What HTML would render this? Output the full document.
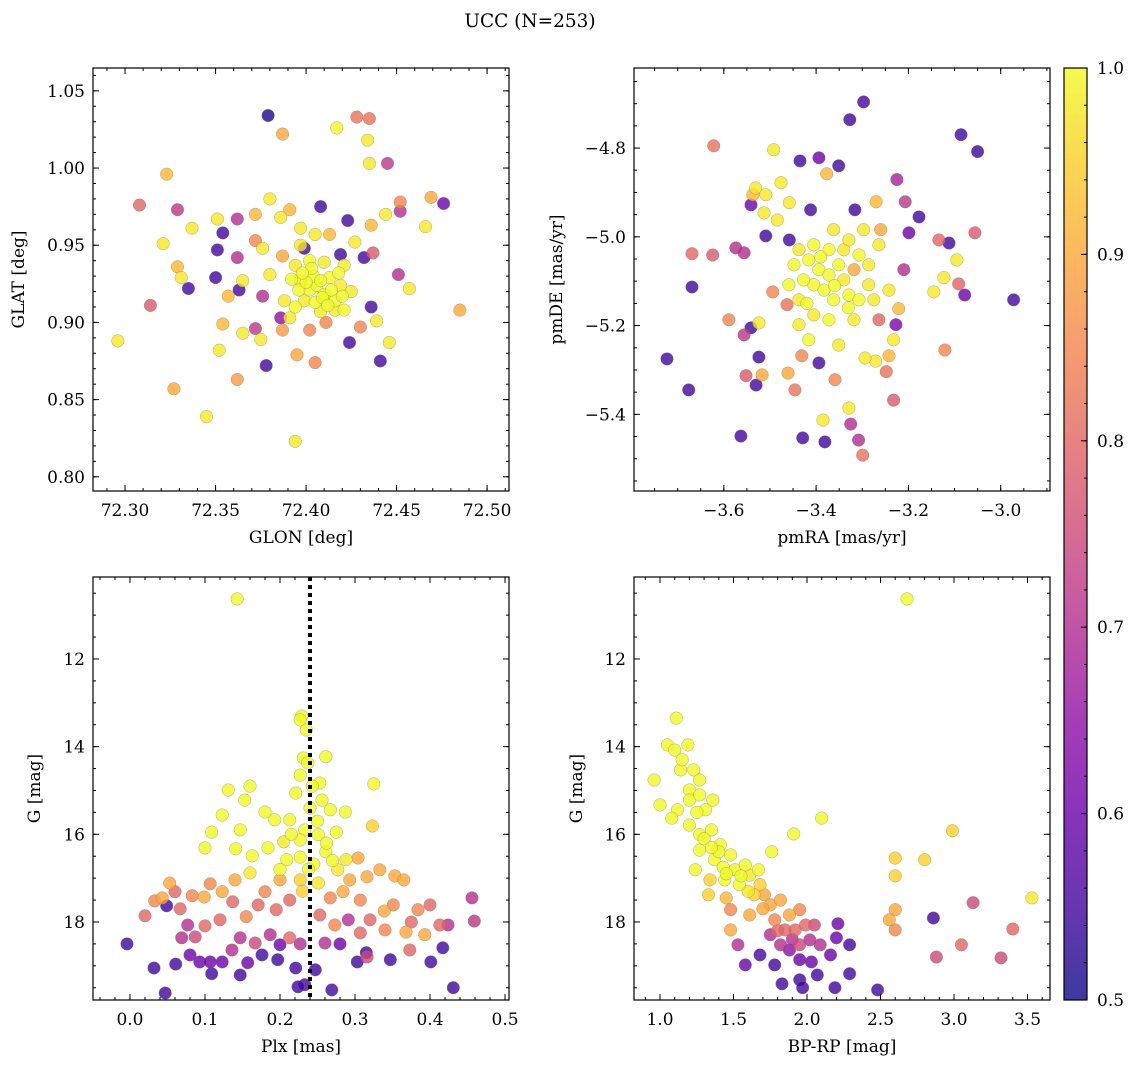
<!DOCTYPE html>
<html><head><meta charset="utf-8"><title>UCC (N=253)</title>
<style>
body{margin:0;background:#fff;}
svg{display:block;font-family:"DejaVu Serif","Liberation Serif",serif;}
</style></head>
<body>
<svg id="fig" width="1136" height="1067" viewBox="0 0 1136 1067">
<defs>
<linearGradient id="cbgrad" x1="0" y1="1" x2="0" y2="0">
<stop offset="0" stop-color="#0d0887" stop-opacity="0.8"/>
<stop offset="0.1" stop-color="#41049d" stop-opacity="0.8"/>
<stop offset="0.2" stop-color="#6a00a8" stop-opacity="0.8"/>
<stop offset="0.3" stop-color="#8f0da4" stop-opacity="0.8"/>
<stop offset="0.4" stop-color="#b12a90" stop-opacity="0.8"/>
<stop offset="0.5" stop-color="#cc4778" stop-opacity="0.8"/>
<stop offset="0.6" stop-color="#e16462" stop-opacity="0.8"/>
<stop offset="0.7" stop-color="#f2844b" stop-opacity="0.8"/>
<stop offset="0.8" stop-color="#fca636" stop-opacity="0.8"/>
<stop offset="0.9" stop-color="#fcce25" stop-opacity="0.8"/>
<stop offset="1" stop-color="#f0f921" stop-opacity="0.8"/>
</linearGradient>
</defs>
<text x="530" y="27" font-size="18.5" text-anchor="middle">UCC (N=253)</text>
</svg>
<script>
// ---- data ----
const p1Data = [
[72.379,1.034,.52],[72.417,1.026,1],[72.387,1.022,.9],[72.428,1.033,.82],[72.435,1.032,.82],[72.434,1.018,.98],[72.435,1.003,.98],[72.445,1.003,.72],
[72.323,0.996,.92],[72.308,0.976,.8],[72.329,0.973,.72],[72.337,0.961,.98],[72.321,0.951,.98],[72.329,0.936,.92],[72.331,0.929,.98],[72.335,0.922,.55],
[72.314,0.911,.78],[72.296,0.888,.98],[72.327,0.857,.9],[72.345,0.839,.98],[72.362,0.863,.88],[72.394,0.823,.98],[72.441,0.875,.55],[72.446,0.887,.98],
[72.466,0.962,.98],[72.469,0.981,.9],[72.476,0.977,.6],[72.485,0.908,.9],[72.457,0.922,.98],[72.451,0.931,.7],[72.452,0.972,.7],[72.452,0.978,.85],
[72.444,0.970,.98],[72.436,0.963,.92],[72.437,0.945,.78],[72.436,0.910,.55],[72.439,0.901,.98],[72.430,0.897,.85],[72.424,0.887,.55],[72.408,0.975,.55],
[72.423,0.966,.55],[72.419,0.944,.55],[72.397,0.961,.98],[72.391,0.973,.92],[72.386,0.968,.98],[72.380,0.980,.98],[72.372,0.970,.92],[72.362,0.967,.7],
[72.351,0.967,.98],[72.354,0.958,.55],[72.351,0.947,.55],[72.362,0.942,.7],[72.350,0.929,.55],[72.363,0.921,.55],[72.357,0.917,.92],[72.376,0.917,.7],
[72.354,0.899,.92],[72.352,0.882,.98],[72.365,0.893,.98],[72.372,0.896,.72],[72.375,0.889,.98],[72.378,0.872,.55],[72.386,0.903,.65],[72.387,0.895,.88],
[72.395,0.879,.9],[72.405,0.874,.85],[72.402,0.895,.85],[72.411,0.900,.85],[72.432,0.942,.55],[72.399,0.948,.55],[72.387,0.943,.9],[72.372,0.953,.85],
[72.397,0.927,.98],[72.402,0.921,1],[72.406,0.924,1],[72.410,0.918,1],[72.399,0.914,.98],[72.405,0.913,1],[72.413,0.929,1],[72.419,0.924,.98],
[72.394,0.937,.98],[72.402,0.940,1],[72.410,0.939,.98],[72.421,0.937,.98],[72.427,0.952,.98],[72.397,0.950,.98],[72.405,0.957,.98],[72.408,0.907,.98],
[72.391,0.903,.98],[72.416,0.908,.98],[72.425,0.920,.98],[72.413,0.957,.92],[72.376,0.948,.98],[72.365,0.927,.98],[72.380,0.931,.98],[72.416,0.914,1],
[72.421,0.908,1],[72.396,0.921,1],[72.388,0.914,.98],[72.404,0.930,1],[72.414,0.921,1],[72.400,0.926,1],[72.409,0.916,1],
[72.403,0.935,1],[72.418,0.932,1],[72.392,0.928,1],[72.408,0.927,1],[72.412,0.911,1],[72.398,0.932,1],[72.420,0.917,1],[72.394,0.910,1]
];
const p2Data = [
[-3.297,-4.696,.55],[-3.327,-4.736,.55],[-3.086,-4.770,.55],[-3.050,-4.808,.55],[-3.622,-4.795,.82],[-3.435,-4.829,.55],[-3.394,-4.822,.6],[-3.492,-4.804,.98],
[-3.351,-4.840,.55],[-3.225,-4.871,.68],[-3.476,-4.878,.98],[-3.531,-4.890,.98],[-3.537,-4.905,.92],[-3.377,-4.858,.92],[-3.412,-4.939,.55],[-3.316,-4.939,.55],
[-3.270,-4.921,.92],[-3.207,-4.921,.72],[-3.177,-4.955,.55],[-3.199,-4.991,.6],[-3.134,-5.007,.8],[-3.112,-5.014,.55],[-3.095,-5.052,.98],[-3.056,-4.991,.78],
[-2.972,-5.142,.55],[-3.078,-5.131,.6],[-3.091,-5.106,.8],[-3.123,-5.092,.98],[-3.145,-5.124,.98],[-3.210,-5.074,.7],[-3.227,-5.198,.62],[-3.221,-5.162,.92],
[-3.232,-5.232,.98],[-3.242,-5.268,.92],[-3.248,-5.304,.82],[-3.271,-5.280,.98],[-3.294,-5.273,.98],[-3.121,-5.255,.85],[-3.232,-5.368,.78],[-3.299,-5.492,.82],
[-3.308,-5.458,.7],[-3.325,-5.422,.7],[-3.329,-5.386,.98],[-3.385,-5.413,.98],[-3.381,-5.462,.55],[-3.429,-5.453,.55],[-3.563,-5.449,.55],[-3.723,-5.275,.55],
[-3.676,-5.345,.55],[-3.669,-5.113,.55],[-3.669,-5.038,.8],[-3.624,-5.041,.78],[-3.574,-5.025,.7],[-3.556,-5.036,.7],[-3.541,-4.928,.6],[-3.509,-4.905,.98],
[-3.513,-4.946,.98],[-3.484,-4.962,.98],[-3.458,-4.923,.98],[-3.509,-4.998,.55],[-3.458,-5.007,.55],[-3.589,-5.187,.85],[-3.541,-5.205,.55],[-3.556,-5.221,.72],
[-3.524,-5.194,.98],[-3.524,-5.271,.55],[-3.552,-5.313,.78],[-3.530,-5.334,.55],[-3.517,-5.311,.9],[-3.461,-5.307,.9],[-3.446,-5.345,.82],[-3.431,-5.268,.85],
[-3.463,-5.153,.82],[-3.494,-5.124,.85],[-3.437,-5.142,.98],[-3.394,-5.284,.55],[-3.359,-5.322,.85],[-3.351,-5.244,.98],
[-3.416,-5.052,1],[-3.394,-5.074,1],[-3.372,-5.086,1],[-3.351,-5.063,1],[-3.405,-5.108,1],[-3.383,-5.120,1],[-3.362,-5.142,1],[-3.340,-5.097,.98],
[-3.329,-5.131,1],[-3.427,-5.097,1],[-3.448,-5.063,1],[-3.437,-5.029,.98],[-3.405,-5.018,1],[-3.372,-5.029,1],[-3.340,-5.029,.98],[-3.307,-5.041,1],
[-3.286,-5.063,.98],[-3.307,-5.142,1],[-3.286,-5.108,.98],[-3.318,-5.187,.98],[-3.372,-5.187,1],[-3.405,-5.176,.98],[-3.437,-5.198,.98],[-3.459,-5.108,1],
[-3.264,-5.018,.98],[-3.260,-4.984,.9],[-3.297,-4.984,.98],[-3.329,-5.007,.98],[-3.242,-5.120,.98],[-3.275,-5.142,.98],[-3.318,-5.074,.9],[-3.362,-4.984,.98],
[-3.264,-5.187,.8],[-3.416,-5.232,1],[-3.390,-5.045,1],[-3.360,-5.110,1],[-3.420,-5.150,1],[-3.330,-5.160,1]
];
const p3Data = [
[0.143,10.63,1],[0.229,13.30,1],[0.227,13.39,1],[0.235,13.62,1],[0.231,14.26,1],[0.237,14.37,1],[0.227,14.65,1],[0.261,14.23,1],[0.253,14.83,1],
[0.243,14.90,1],[0.221,15.06,1],[0.256,15.22,1],[0.267,15.44,1],[0.213,15.67,1],[0.233,15.90,1],[0.251,16.01,1],[0.227,16.13,1],[0.205,16.17,.98],
[0.193,15.67,1],[0.180,15.49,1],[0.160,14.90,1],[0.153,15.22,1],[0.131,14.99,1],[0.147,15.90,1],[0.123,15.56,1],[0.109,15.95,1],[0.100,16.31,1],
[0.141,16.33,1],[0.163,16.49,1],[0.184,16.31,1],[0.209,16.58,1],[0.227,16.52,1],[0.245,16.68,1],[0.261,16.40,1],[0.275,15.95,1],[0.287,15.49,1],
[0.325,14.85,1],[0.323,15.81,.95],[0.304,16.54,.9],[0.288,16.58,.98],[0.277,16.81,.98],[0.293,17.04,.9],[0.316,16.97,.9],[0.333,16.81,.9],[0.353,16.95,.9],
[0.365,17.04,.9],[0.351,17.61,.85],[0.339,17.75,.9],[0.307,17.50,.85],[0.284,17.31,.9],[0.267,17.45,.85],[0.251,17.11,.98],[0.227,17.04,.95],[0.200,17.04,.9],
[0.180,17.31,.85],[0.160,16.88,.98],[0.140,17.04,.9],[0.123,17.31,.9],[0.107,17.13,.85],[0.099,17.43,.9],[0.083,17.40,.85],[0.067,17.70,.8],[0.060,17.31,.8],
[0.053,17.11,.9],[0.043,17.45,.9],[0.033,17.52,.85],[0.020,17.86,.8],[0.137,17.54,.8],[0.155,17.88,.85],[0.171,17.61,.8],[0.195,17.72,.8],[0.213,17.50,.8],
[0.253,17.84,.8],[0.273,18.07,.85],[0.291,17.95,.7],[0.307,18.25,.8],[0.320,17.95,.8],[0.340,18.18,.85],[0.368,18.23,.9],[0.375,18.00,.8],[0.384,17.72,.85],
[0.400,17.61,.8],[0.393,18.29,.9],[0.413,18.07,.8],[0.424,18.07,.7],[0.456,17.45,.7],[0.459,17.98,.72],[0.373,18.64,.8],[0.316,18.80,.75],[0.280,18.50,.6],
[0.260,18.48,.7],[0.227,18.50,.7],[0.213,18.36,.8],[0.200,18.52,.6],[0.187,18.29,.7],[0.167,18.48,.75],[0.147,18.36,.7],[0.136,18.64,.7],[0.120,17.95,.8],
[0.100,18.09,.8],[0.087,18.34,.75],[0.077,18.07,.7],[0.069,18.36,.7],[0.080,18.75,.6],[0.093,18.91,.6],[0.107,18.91,.6],[0.123,18.91,.6],[0.147,19.21,.55],
[0.157,18.93,.6],[0.176,18.75,.55],[0.197,18.86,.55],[0.221,19.05,.55],[0.233,19.43,.55],[0.269,19.55,.55],[0.303,18.91,.55],[0.315,18.70,.55],[0.347,18.86,.55],
[0.401,18.91,.55],[0.417,18.59,.55],[0.431,19.50,.55],[0.047,19.62,.55],[0.049,17.63,.55],[-0.004,18.50,.55],[0.032,19.05,.55],[0.061,18.96,.55],
[0.109,19.18,.55],[0.224,19.48,.55],[0.247,19.09,.55],
[0.240,15.40,1],[0.215,16.00,1],[0.262,16.20,1],[0.238,16.80,1],[0.200,16.80,1],[0.270,16.60,1],[0.230,17.30,.95],[0.250,15.70,1]
];
const p4Data = [
[2.68,10.63,1],[1.11,13.35,1],[1.05,13.96,1],[1.10,14.08,1],[1.19,13.96,1],[1.14,14.53,1],[1.23,14.53,1],[1.27,14.76,1],[1.20,14.99,1],[0.96,14.76,1],
[1.00,15.33,1],[1.12,15.44,1],[1.20,15.22,1],[1.27,15.10,1],[1.31,15.44,1],[1.36,15.22,1],[1.08,15.63,1],[1.20,15.79,1],[1.27,16.01,1],[1.35,15.90,1],
[1.41,16.24,1],[1.27,16.36,1],[1.37,16.58,1],[1.48,16.47,1],[1.51,16.81,1],[1.58,16.70,1],[1.44,17.04,1],[1.54,17.15,1],[1.61,16.93,.98],[1.68,17.15,.95],
[1.64,17.38,.95],[1.71,17.38,.9],[1.75,17.61,.9],[1.82,17.50,.9],[1.88,17.84,.9],[1.95,17.72,.85],[1.78,17.95,.85],[1.85,18.18,.8],[1.92,18.18,.8],
[1.99,18.07,.8],[2.05,18.07,.75],[2.02,18.41,.7],[2.09,18.52,.7],[1.95,18.52,.75],[1.88,18.64,.65],[1.82,18.52,.7],[1.75,18.29,.7],[1.95,18.86,.6],
[2.03,18.91,.6],[2.16,18.75,.6],[2.29,18.52,.55],[2.07,19.21,.55],[1.95,19.32,.55],[1.97,19.50,.55],[1.83,19.41,.55],[1.78,18.98,.55],[1.68,18.75,.55],
[1.58,18.98,.6],[1.53,18.52,.7],[1.48,18.18,.9],[1.61,17.84,.9],[1.45,17.45,.92],[1.34,17.04,.95],[1.33,17.38,.95],[1.24,16.81,1],[1.48,17.72,.85],
[1.67,16.81,1],[1.76,16.40,1],[1.91,15.99,1],[2.10,15.63,1],[2.21,18.04,.6],[2.20,18.36,.6],[2.29,19.18,.55],[2.19,19.50,.55],[2.48,19.55,.55],
[2.86,17.91,.55],[2.60,17.72,.9],[2.60,18.18,.85],[2.56,17.95,.9],[2.60,16.54,.95],[2.60,16.95,.95],[2.80,16.58,.95],[2.99,15.92,.95],[3.13,17.56,.75],
[3.05,18.52,.8],[3.40,18.16,.8],[3.53,17.45,.98],[3.32,18.82,.75],[2.88,18.80,.75],[1.40,16.40,1],[1.30,16.10,1],[1.55,16.95,1],[1.43,16.75,1],
[1.15,14.30,1],[1.25,15.50,1],[1.35,16.30,1],[1.45,16.90,1],[1.60,17.30,.98],[1.70,17.70,.9],[1.80,18.20,.8],[1.90,18.40,.7]
];
const p1XTicks=[72.30,72.35,72.40,72.45,72.50], p1XLabels=["72.30","72.35","72.40","72.45","72.50"];
const p1YTicks=[0.80,0.85,0.90,0.95,1.00,1.05], p1YLabels=["0.80","0.85","0.90","0.95","1.00","1.05"];
const p2XTicks=[-3.6,-3.4,-3.2,-3.0], p2XLabels=["\u22123.6","\u22123.4","\u22123.2","\u22123.0"];
const p2YTicks=[-4.8,-5.0,-5.2,-5.4], p2YLabels=["\u22124.8","\u22125.0","\u22125.2","\u22125.4"];
const p3XTicks=[0.0,0.1,0.2,0.3,0.4,0.5], p3XLabels=["0.0","0.1","0.2","0.3","0.4","0.5"];
const gYTicks=[12,14,16,18], gYLabels=["12","14","16","18"];
const p4XTicks=[1.0,1.5,2.0,2.5,3.0,3.5], p4XLabels=["1.0","1.5","2.0","2.5","3.0","3.5"];
const cbTicks=[0.5,0.6,0.7,0.8,0.9,1.0], cbLabels=["0.5","0.6","0.7","0.8","0.9","1.0"];
const plxLine=0.24;

// ---- helpers ----
const NS="http://www.w3.org/2000/svg";
const svg=document.getElementById('fig');
function mk(tag,attrs,parent){const e=document.createElementNS(NS,tag);for(const k in attrs)e.setAttribute(k,attrs[k]);(parent||svg).appendChild(e);return e;}
const stops=[[13,8,135],[65,4,157],[106,0,168],[143,13,164],[177,42,144],[204,71,120],[225,100,98],[242,132,75],[252,166,54],[252,206,37],[240,249,33]];
function plasma(p){let t=Math.max(0,Math.min(1,(p-0.5)/0.5))*10;let i=Math.min(9,Math.floor(t));let f=t-i;const a=stops[i],b=stops[i+1];
return `rgb(${Math.round(a[0]+(b[0]-a[0])*f)},${Math.round(a[1]+(b[1]-a[1])*f)},${Math.round(a[2]+(b[2]-a[2])*f)})`;}
const FS=17;

function panel(cfg){
  const {name,L,R,T,B,x0,x1,y0,y1,yInv}=cfg;
  const sx=v=>L+(v-x0)/(x1-x0)*(R-L);
  const sy=yInv?(v=>T+(v-y0)/(y1-y0)*(B-T)):(v=>B-(v-y0)/(y1-y0)*(B-T));
  const g=mk('g',{});
  
  
  const clipId=name+'-clip';
  const cp=mk('clipPath',{id:clipId},g);mk('rect',{x:L,y:T,width:R-L,height:B-T},cp);
  const pts=mk('g',{'clip-path':`url(#${clipId})`},g);
  
  
  const data=cfg.data.slice().sort((a,b)=>a[2]-b[2]);
  data.forEach(d=>{
    const c=mk('circle',{cx:sx(d[0]).toFixed(1),cy:sy(d[1]).toFixed(1),r:6.3,fill:plasma(d[2]),'fill-opacity':0.8,stroke:'#777',"stroke-opacity":0.6,'stroke-width':0.5},pts);
    
    
  });
  if(cfg.vline!==undefined){
    const l=mk('line',{x1:sx(cfg.vline),x2:sx(cfg.vline),y1:T,y2:B,stroke:'#000','stroke-width':4,'stroke-dasharray':'4 4'},g);
    
    
  }
  const fr=mk('rect',{x:L,y:T,width:R-L,height:B-T,fill:'none',stroke:'#000','stroke-width':1.2},g);
  
  
  const tk=mk('g',{stroke:'#000','stroke-width':1},g);
  const ax=(v)=>v>=Math.min(x0,x1)-1e-9&&v<=Math.max(x0,x1)+1e-9;
  const ay=(v)=>v>=Math.min(y0,y1)-1e-9&&v<=Math.max(y0,y1)+1e-9;
  for(let v=Math.ceil(x0/cfg.xm-1e-6)*cfg.xm;v<=x1+1e-9;v+=cfg.xm){const x=sx(v);mk('line',{x1:x,x2:x,y1:B,y2:B-3},tk);mk('line',{x1:x,x2:x,y1:T,y2:T+3},tk);}
  const ylo=Math.min(y0,y1),yhi=Math.max(y0,y1);
  for(let v=Math.ceil(ylo/cfg.ym-1e-6)*cfg.ym;v<=yhi+1e-9;v+=cfg.ym){const y=sy(v);mk('line',{x1:L,x2:L+3,y1:y,y2:y},tk);mk('line',{x1:R,x2:R-3,y1:y,y2:y},tk);}
  cfg.xt.forEach((v,i)=>{if(!ax(v))return;const x=sx(v);mk('line',{x1:x,x2:x,y1:B,y2:B-6},tk);mk('line',{x1:x,x2:x,y1:T,y2:T+6},tk);
    const t=mk('text',{x:x,y:B+25,'font-size':FS,'text-anchor':'middle'},g);t.textContent=cfg.xl[i];
    
    });
  cfg.yt.forEach((v,i)=>{if(!ay(v))return;const y=sy(v);mk('line',{x1:L,x2:L+6,y1:y,y2:y},tk);mk('line',{x1:R,x2:R-6,y1:y,y2:y},tk);
    const t=mk('text',{x:L-8,y:y+6,'font-size':FS,'text-anchor':'end'},g);t.textContent=cfg.yl[i];
    
    });
  const xt=mk('text',{x:(L+R)/2,y:B+52,'font-size':FS,'text-anchor':'middle'},g);xt.textContent=cfg.xlabel;
  
  
  const yx=cfg.ylx,ym=(T+B)/2;
  const yt=mk('text',{x:yx,y:ym,'font-size':FS,'text-anchor':'middle',transform:`rotate(-90 ${yx} ${ym})`},g);yt.textContent=cfg.ylabel;
  
  
}

panel({name:'glon-glat',L:93,R:509,T:68,B:491,x0:72.2823,x1:72.5121,y0:0.7908,y1:1.0648,data:p1Data,
  xt:p1XTicks,xl:p1XLabels,yt:p1YTicks,yl:p1YLabels,xm:0.01,ym:0.01,xlabel:'GLON [deg]',ylabel:'GLAT [deg]',ylx:24});
panel({name:'proper-motion',L:634,R:1050,T:68,B:491,x0:-3.7946,x1:-2.8932,y0:-5.5727,y1:-4.6196,data:p2Data,
  xt:p2XTicks,xl:p2XLabels,yt:p2YTicks,yl:p2YLabels,xm:0.05,ym:0.05,xlabel:'pmRA [mas/yr]',ylabel:'pmDE [mas/yr]',ylx:562});
panel({name:'plx-g',L:93,R:509,T:577,B:1000,x0:-0.0493,x1:0.5053,y0:10.13,y1:19.78,yInv:true,data:p3Data,vline:plxLine,
  xt:p3XTicks,xl:p3XLabels,yt:gYTicks,yl:gYLabels,xm:0.02,ym:0.5,xlabel:'Plx [mas]',ylabel:'G [mag]',ylx:40});
panel({name:'cmd',L:634,R:1050,T:577,B:1000,x0:0.8231,x1:3.653,y0:10.13,y1:19.78,yInv:true,data:p4Data,
  xt:p4XTicks,xl:p4XLabels,yt:gYTicks,yl:gYLabels,xm:0.1,ym:0.5,xlabel:'BP-RP [mag]',ylabel:'G [mag]',ylx:582});

(function(){
  const L=1064,R=1087,T=68,B=1000;
  const g=mk('g',{});
  
  
  mk('rect',{x:L,y:T,width:R-L,height:B-T,fill:'url(#cbgrad)'},g);
  mk('rect',{x:L,y:T,width:R-L,height:B-T,fill:'none',stroke:'#000','stroke-width':1.2},g);
  const sy=v=>B-(v-0.5)/0.5*(B-T);
  for(let v=0.5;v<=1.0001;v+=0.02){mk('line',{x1:R,x2:R-3,y1:sy(v),y2:sy(v),stroke:'#000'},g);}
  cbTicks.forEach((v,i)=>{const y=sy(v);mk('line',{x1:R,x2:R-6,y1:y,y2:y,stroke:'#000'},g);
    const t=mk('text',{x:R+10,y:y+6,'font-size':FS},g);t.textContent=cbLabels[i];
    
    });
})();
</script>
</body></html>
